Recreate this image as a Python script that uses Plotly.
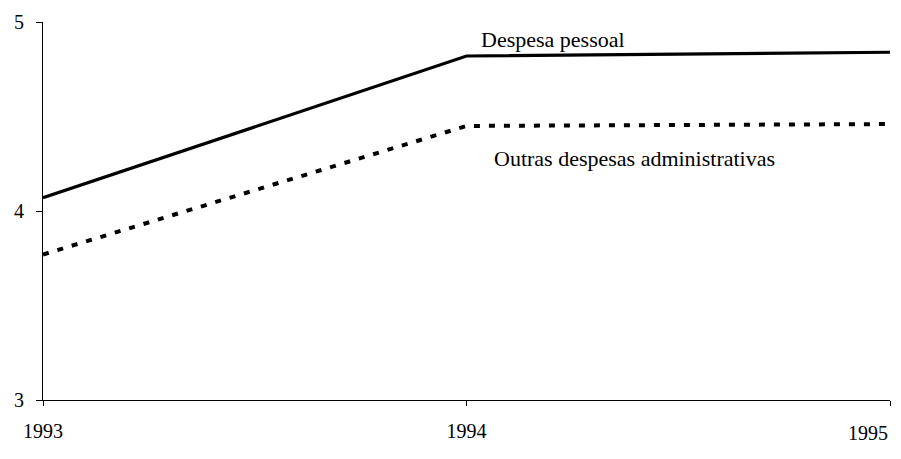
import plotly.graph_objects as go

years = [1993, 1994, 1995]
year_labels = ["1993", "1994", "1995"]
despesa_pessoal = [4.07, 4.82, 4.84]
outras_despesas = [3.77, 4.45, 4.46]
y_ticks = [3, 4, 5]

fig = go.Figure()
fig.add_trace(go.Scatter(x=years, y=despesa_pessoal, mode="lines",
                         line=dict(color="black", width=3.2),
                         name="Despesa pessoal", showlegend=False))
fig.add_trace(go.Scatter(x=years, y=outras_despesas, mode="lines",
                         line=dict(color="black", width=4, dash="6px,9px"),
                         name="Outras despesas administrativas", showlegend=False))

ann_font = dict(family="Liberation Serif", size=22, color="black")
tick_font = dict(family="Liberation Serif", size=20, color="black")
fig.add_annotation(x=1994.03, y=4.905, text="Despesa pessoal", showarrow=False,
                   xanchor="left", yanchor="middle", font=ann_font)
fig.add_annotation(x=1994.06, y=4.28, text="Outras despesas administrativas", showarrow=False,
                   xanchor="left", yanchor="middle", font=ann_font)
# last x label placed inside the figure so it is not clipped at the right edge
fig.add_annotation(x=years[-1], y=0, xref="x", yref="paper", text=year_labels[-1],
                   showarrow=False, xanchor="right", yanchor="top", yshift=-20,
                   font=tick_font)

fig.update_layout(
    width=885, height=443,
    margin=dict(l=35, r=3, t=11, b=51),
    paper_bgcolor="white", plot_bgcolor="white",
    font=tick_font,
    showlegend=False,
)
fig.update_xaxes(range=[1993, 1995], tickvals=years, ticktext=year_labels[:-1] + [""],
                 showgrid=False, zeroline=False, showline=True, linecolor="black", linewidth=1,
                 ticks="outside", ticklen=5, tickcolor="black", tickfont=tick_font,
                 ticklabelstandoff=8)
fig.update_yaxes(range=[3, 5], tickvals=y_ticks, showgrid=False, zeroline=False,
                 showline=True, linecolor="black", linewidth=1,
                 ticks="outside", ticklen=6, tickcolor="black", tickfont=tick_font,
                 ticklabelstandoff=8)

fig.write_html("out.html")
